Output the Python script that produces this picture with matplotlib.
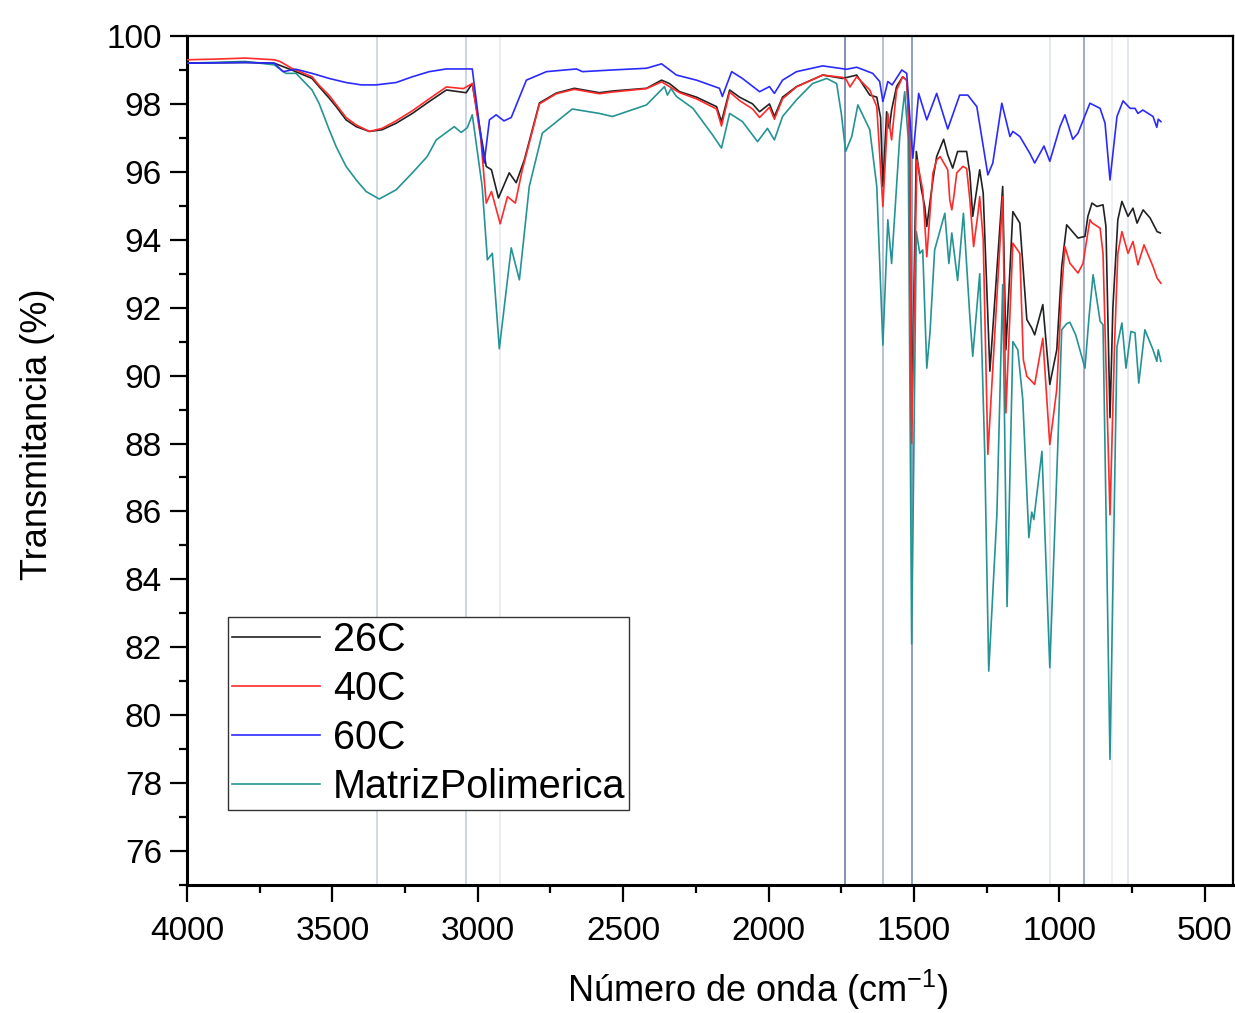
import matplotlib
matplotlib.use("Agg")
import matplotlib.pyplot as plt
from matplotlib.ticker import MultipleLocator

plt.rcParams['font.family'] = ['Liberation Sans', 'DejaVu Sans']
plt.rcParams['mathtext.fontset'] = 'custom'
plt.rcParams['mathtext.rm'] = 'Liberation Sans'
plt.rcParams['mathtext.default'] = 'regular'

# 26C
wn_26 = [4000, 3800, 3700, 3640, 3570, 3546, 3511, 3487, 3453, 3418, 3373, 3329, 3281, 3225, 3167, 3108,
         3040, 3019,
         2971, 2953, 2929, 2892, 2868, 2840, 2788, 2730, 2668, 2582, 2537, 2420, 2368, 2341,
         2306, 2248, 2179, 2162, 2134, 2100, 2055, 2031, 1997, 1980, 1952, 1904, 1814, 1745,
         1697, 1652, 1628, 1615, 1607, 1594, 1585, 1577, 1560, 1539, 1525, 1515, 1508, 1492,
         1475, 1463, 1456, 1435, 1422, 1398, 1384, 1367, 1350, 1319, 1308, 1298, 1274, 1262,
         1239, 1195, 1184, 1160, 1136, 1112, 1095, 1085, 1057, 1033, 1009, 992, 975, 936, 912,
         902, 888, 871, 850, 840, 826, 816, 799, 785, 764, 747, 733, 712, 688, 664, 653]
t_26 = [99.2, 99.22, 99.2, 99.0, 98.75, 98.51, 98.17, 97.92, 97.53, 97.33, 97.19, 97.24, 97.43, 97.72, 98.07, 98.41,
        98.33, 98.6,
        96.16, 96.06, 95.23, 95.97, 95.68, 96.35, 98.03, 98.32, 98.46, 98.33, 98.38, 98.46, 98.7, 98.6,
        98.36, 98.2, 97.92, 97.48, 98.41, 98.2, 98.0, 97.77, 98.0, 97.63, 98.2, 98.51, 98.85, 98.75,
        98.85, 98.26, 98.2, 97.6, 95.57, 97.77, 97.28, 97.82, 98.51, 98.8, 98.7, 97.0, 88.6, 96.6,
        95.5, 94.98, 94.39, 95.76, 96.45, 96.96, 96.5, 96.11, 96.6, 96.6, 95.96, 94.69, 96.06, 95.37,
        90.13, 95.57, 90.76, 94.83, 94.49, 91.65, 91.4, 91.2, 92.09, 89.74, 90.76, 93.21, 94.44, 94.05, 94.1,
        94.69, 95.08, 94.98, 95.03, 94.4, 88.76, 92.0, 94.59, 95.13, 94.69, 94.93, 94.49, 94.88, 94.64, 94.24, 94.2]

# 40C
wn_40 = [4000, 3900, 3800, 3700, 3680, 3640, 3570, 3546, 3511, 3487, 3453, 3418, 3373, 3329, 3281, 3225,
         3167, 3108, 3050,
         3019, 2990, 2971, 2953, 2923, 2898, 2871, 2847, 2788, 2730, 2668, 2582, 2537, 2420, 2368,
         2306, 2248, 2179, 2162, 2134, 2100, 2055, 2031, 1997, 1980, 1952, 1904, 1814, 1745, 1732,
         1720, 1697, 1652, 1628, 1607, 1590, 1577, 1560, 1539, 1525, 1515, 1508, 1490, 1470, 1456,
         1435, 1422, 1410, 1384, 1377, 1370, 1363, 1353, 1332, 1319, 1308, 1295, 1280, 1274, 1262,
         1246, 1195, 1184, 1160, 1136, 1124, 1112, 1085, 1057, 1033, 1009, 992, 981, 964, 936, 919,
         895, 888, 860, 850, 826, 810, 799, 785, 764, 747, 730, 709, 678, 664, 651]
t_40 = [99.3, 99.32, 99.35, 99.3, 99.25, 99.05, 98.8, 98.55, 98.25, 97.98, 97.6, 97.38, 97.19, 97.28, 97.5, 97.8,
        98.15, 98.5, 98.45,
        98.6, 97.0, 95.08, 95.42, 94.47, 95.27, 95.08, 96.06, 98.0, 98.3, 98.43, 98.3, 98.35, 98.45, 98.65,
        98.33, 98.15, 97.85, 97.35, 98.35, 98.1, 97.85, 97.6, 97.9, 97.55, 98.15, 98.5, 98.85, 98.78, 98.7,
        98.5, 98.8, 98.41, 97.92, 94.98, 97.72, 96.94, 98.4, 98.8, 98.7, 97.0, 88.0, 96.35, 95.47, 93.5,
        95.96, 96.35, 96.45, 96.06, 95.18, 94.88, 95.27, 95.97, 96.16, 96.1, 95.18, 93.8, 94.78, 95.27, 94.0,
        87.68, 95.27, 88.9, 93.9, 93.6, 90.47, 89.98, 89.74, 91.1, 87.97, 89.6, 92.53, 93.8, 93.31, 93.02, 93.3,
        94.59, 94.5, 94.34, 93.6, 85.9, 91.0, 93.6, 94.24, 93.6, 93.95, 93.26, 93.85, 93.21, 92.87, 92.72]

# 60C
wn_60 = [4000, 3800, 3700, 3670, 3640, 3625, 3570, 3511, 3453, 3400, 3350, 3281, 3225, 3167, 3108,
         3019, 2978, 2960, 2937, 2910, 2885, 2833, 2764, 2661, 2640, 2537, 2420, 2368, 2340, 2317,
         2248, 2169, 2159, 2127, 2090, 2031, 1997, 1980, 1952, 1904, 1814, 1732, 1697, 1642, 1618,
         1607, 1590, 1575, 1542, 1525, 1504, 1484, 1456, 1422, 1384, 1343, 1315, 1284, 1246, 1229,
         1198, 1170, 1160, 1136, 1102, 1085, 1053, 1033, 998, 981, 954, 936, 895, 860, 843, 826,
         802, 781, 757, 740, 730, 713, 678, 665, 660, 651]
t_60 = [99.2, 99.22, 99.2, 98.95, 99.0, 99.02, 98.9, 98.75, 98.63, 98.56, 98.56, 98.63, 98.8, 98.95, 99.03,
        99.03, 96.26, 97.53, 97.68, 97.5, 97.6, 98.7, 98.95, 99.03, 98.95, 99.0, 99.05, 99.18, 99.0, 98.85,
        98.7, 98.46, 98.22, 98.95, 98.75, 98.36, 98.51, 98.31, 98.7, 98.95, 99.12, 99.02, 99.08, 98.9, 98.66,
        98.07, 98.66, 98.56, 99.0, 98.9, 96.4, 98.31, 97.53, 98.31, 97.26, 98.26, 98.26, 97.92, 95.91, 96.26,
        98.02, 97.04, 97.19, 97.04, 96.55, 96.26, 96.76, 96.31, 97.33, 97.68, 96.96, 97.14, 98.02, 97.87, 97.43, 95.76,
        97.63, 98.09, 97.87, 97.87, 97.72, 97.82, 97.63, 97.31, 97.55, 97.48]

# MatrizPolimerica
wn_mp = [4000, 3800, 3700, 3660, 3625, 3570, 3546, 3511, 3487, 3453, 3418, 3384, 3339, 3281, 3225, 3174,
         3143, 3081, 3057, 3036, 3019,
         2985, 2967, 2950, 2926, 2885, 2857, 2823, 2778, 2675, 2582, 2537, 2420, 2358, 2348, 2335,
         2317, 2260, 2193, 2162, 2134, 2090, 2038, 2004, 1980, 1952, 1904, 1849, 1800, 1766, 1750,
         1735, 1714, 1693, 1652, 1628, 1607, 1590, 1577, 1549, 1532, 1520, 1508, 1492, 1480, 1470,
         1456, 1445, 1429, 1394, 1380, 1370, 1350, 1330, 1308, 1298, 1274, 1257, 1243, 1215, 1195,
         1180, 1160, 1143, 1126, 1105, 1095, 1088, 1060, 1033, 1006, 992, 975, 964, 944, 912, 898,
         884, 860, 850, 826, 802, 785, 771, 754, 740, 727, 706, 678, 665, 660, 651]
t_mp = [99.2, 99.25, 99.15, 98.9, 98.9, 98.41, 98.02, 97.24, 96.74, 96.16, 95.76, 95.42, 95.2, 95.47, 95.97, 96.45,
        96.94, 97.33, 97.16, 97.3, 97.68,
        95.57, 93.41, 93.6, 90.79, 93.76, 92.82, 95.57, 97.14, 97.85, 97.72, 97.63, 97.97, 98.51, 98.26, 98.45,
        98.22, 97.87, 97.09, 96.7, 97.72, 97.48, 96.89, 97.28, 96.94, 97.63, 98.12, 98.6, 98.75, 98.6, 97.72,
        96.6, 97.04, 97.97, 97.24, 95.57, 90.9, 94.59, 93.3, 97.04, 98.36, 97.0, 82.1, 94.24, 93.6, 93.7,
        90.22, 91.26, 93.7, 94.78, 93.3, 94.2, 92.8, 94.78, 91.74, 90.57, 93.0, 87.8, 81.3, 85.9, 92.68,
        83.2, 91.0, 90.76, 89.3, 85.23, 85.98, 85.76, 87.77, 81.4, 87.8, 91.35, 91.53, 91.57, 91.2, 90.22, 91.74,
        92.97, 91.6, 91.5, 78.7, 90.86, 91.55, 90.22, 91.3, 91.26, 89.78, 91.35, 90.76, 90.42, 90.76, 90.42]

# lineas verticales de referencia
picos = [3346, 3040, 2924, 1736, 1607, 1508, 1033, 915, 820, 763]
colores_picos = ['#c9d2e3', '#c4cee2', '#e6eaf2', '#6b7fa3', '#a9b6cd', '#7b8fb6',
                 '#dde3ee', '#8e9ec2', '#eceff5', '#dfe4ee']

fig = plt.figure(figsize=(12.35, 10.13), dpi=100)
ax = fig.add_axes([187 / 1235, 128 / 1013, 1046 / 1235, 849 / 1013])

for p, c in zip(picos, colores_picos):
    ax.axvline(p, color=c, lw=1.2, zorder=1)

ax.plot(wn_26, t_26, color='#222222', lw=1.2, label='26C', zorder=3)
ax.plot(wn_40, t_40, color='#ff2a2a', lw=1.2, label='40C', zorder=3)
ax.plot(wn_60, t_60, color='#2a2aff', lw=1.2, label='60C', zorder=3)
ax.plot(wn_mp, t_mp, color='#259393', lw=1.2, label='MatrizPolimerica', zorder=2)

ax.set_xlim(4000, 403)
ax.set_ylim(75, 100)
ax.xaxis.set_major_locator(MultipleLocator(500))
ax.xaxis.set_minor_locator(MultipleLocator(250))
ax.yaxis.set_minor_locator(MultipleLocator(1))
ax.set_yticks([76, 78, 80, 82, 84, 86, 88, 90, 92, 94, 96, 98, 100])

ax.tick_params(which='major', direction='out', length=12, width=1.6, labelsize=24, pad=6)
ax.tick_params(axis='x', which='major', pad=10)
ax.tick_params(which='minor', direction='out', length=6, width=1.6)
ax.tick_params(top=False, right=False)
for lado in ['left', 'bottom']:
    ax.spines[lado].set_linewidth(2.2)
for lado in ['top', 'right']:
    ax.spines[lado].set_linewidth(1.6)

ax.set_xlabel('Número de onda (cm$^{-1}$)', fontsize=26)
ax.set_ylabel('Transmitancia (%)', fontsize=26)
ax.xaxis.set_label_coords(0.546, -0.098)
ax.yaxis.set_label_coords(-0.126, 0.531)

leg = ax.legend(loc='upper left', bbox_to_anchor=(0.039, 0.316), fontsize=28.5,
                frameon=True, fancybox=False, edgecolor='#333333', framealpha=1,
                handlelength=2.22, handletextpad=0.33, borderpad=0.1,
                labelspacing=0.28, borderaxespad=0)
leg.get_frame().set_linewidth(1.0)

fig.savefig('out.png', dpi=100)
